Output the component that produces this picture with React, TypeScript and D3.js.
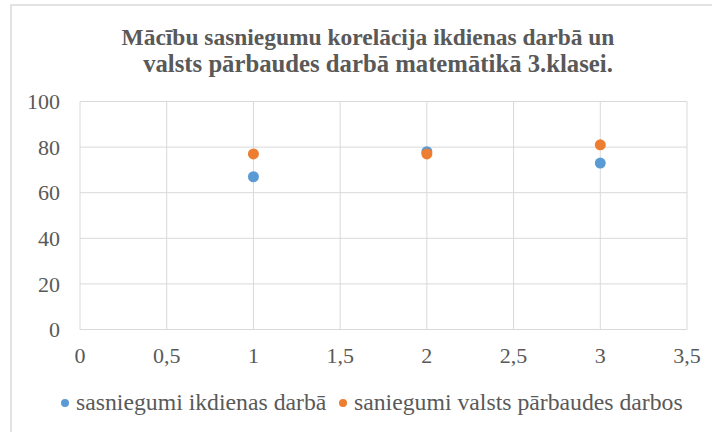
import React, { useEffect, useRef } from "react";
import * as d3 from "d3";

// dati
const classes = [1, 2, 3];
const dailyScores = [67, 78, 73];
const stateTestScores = [77, 77, 81];
const seriesNames = ["sasniegumi ikdienas darbā", "saniegumi valsts pārbaudes darbos"];
const seriesColors = ["#5B9BD5", "#ED7D31"];
const titleLines = [
  "Mācību sasniegumu korelācija ikdienas darbā un",
  "valsts pārbaudes darbā matemātikā 3.klasei.",
];
const xTicks = [0, 0.5, 1, 1.5, 2, 2.5, 3, 3.5];
const yTicks = [0, 20, 40, 60, 80, 100];

export default function App() {
  const svgRef = useRef<SVGSVGElement>(null);

  useEffect(() => {
    const width = 712;
    const height = 432;
    const font = "Liberation Serif";
    const textColor = "#595959";
    const gridColor = "#D9D9D9";

    const svg = d3.select(svgRef.current);
    svg.selectAll("*").remove();

    svg.append("rect")
      .attr("width", width)
      .attr("height", height)
      .attr("fill", "#fff");

    // ramis
    svg.append("rect")
      .attr("x", 11)
      .attr("y", 5)
      .attr("width", width + 20)
      .attr("height", height + 20)
      .attr("fill", "none")
      .attr("stroke", gridColor)
      .attr("stroke-width", 1.5);

    const x = d3.scaleLinear().domain([0, 3.5]).range([80, 687]);
    const y = d3.scaleLinear().domain([0, 100]).range([329.5, 101.5]);

    const fmt = (v: number) => String(v).replace(".", ",");

    // font size so that a text gets the width seen in the picture
    const fitSize = (node: SVGTextElement, target: number, base: number) => {
      const w = node.getComputedTextLength();
      return w > 0 ? (base * target) / w : base;
    };

    // virsraksts
    const titleX = [368, 378];
    const titleY = [45, 72];
    const titleW = [493, 470];
    svg.append("g")
      .selectAll("text")
      .data(titleLines)
      .join("text")
      .attr("x", (d, i) => titleX[i])
      .attr("y", (d, i) => titleY[i])
      .attr("text-anchor", "middle")
      .attr("font-family", font)
      .attr("font-weight", "bold")
      .attr("font-size", 20)
      .attr("fill", textColor)
      .text(d => d)
      .each(function (d, i) {
        d3.select(this).attr("font-size", fitSize(this as SVGTextElement, titleW[i], 20));
      });

    const grid = svg.append("g");
    grid.selectAll("line.h")
      .data(yTicks)
      .join("line")
      .attr("class", "h")
      .attr("x1", x(0))
      .attr("x2", x(3.5))
      .attr("y1", d => y(d))
      .attr("y2", d => y(d))
      .attr("stroke", gridColor)
      .attr("stroke-width", 1);
    grid.selectAll("line.v")
      .data(xTicks)
      .join("line")
      .attr("class", "v")
      .attr("x1", d => x(d))
      .attr("x2", d => x(d))
      .attr("y1", y(0))
      .attr("y2", y(100))
      .attr("stroke", gridColor)
      .attr("stroke-width", 1);

    svg.append("g")
      .selectAll("text")
      .data(yTicks)
      .join("text")
      .attr("x", 60)
      .attr("y", d => y(d))
      .attr("dy", "0.35em")
      .attr("text-anchor", "end")
      .attr("font-family", font)
      .attr("font-size", 22)
      .attr("fill", textColor)
      .text(d => d);

    svg.append("g")
      .selectAll("text")
      .data(xTicks)
      .join("text")
      .attr("x", d => x(d))
      .attr("y", 363)
      .attr("text-anchor", "middle")
      .attr("font-family", font)
      .attr("font-size", 22)
      .attr("fill", textColor)
      .text(d => fmt(d));

    const series = [dailyScores, stateTestScores];
    series.forEach((vals, si) => {
      svg.append("g")
        .selectAll("circle")
        .data(vals)
        .join("circle")
        .attr("cx", (d, i) => x(classes[i]))
        .attr("cy", d => y(d))
        .attr("r", 5.5)
        .attr("fill", seriesColors[si]);
    });

    // legenda
    const legendX = [65, 343];
    const legendText = svg.append("g")
      .selectAll("text")
      .data(seriesNames)
      .join("text")
      .attr("x", (d, i) => legendX[i] + 11)
      .attr("y", 410)
      .attr("font-family", font)
      .attr("font-size", 20)
      .attr("fill", textColor)
      .text(d => d);
    const legendSize = fitSize(legendText.nodes()[1] as SVGTextElement, 329, 20);
    legendText.attr("font-size", legendSize);
    svg.append("g")
      .selectAll("circle")
      .data(seriesNames)
      .join("circle")
      .attr("cx", (d, i) => legendX[i])
      .attr("cy", 403)
      .attr("r", 4)
      .attr("fill", (d, i) => seriesColors[i]);
  }, []);

  return (
    <svg
      ref={svgRef}
      width={712}
      height={432}
      style={{ position: "absolute", left: 0, top: 0 }}
    />
  );
}
